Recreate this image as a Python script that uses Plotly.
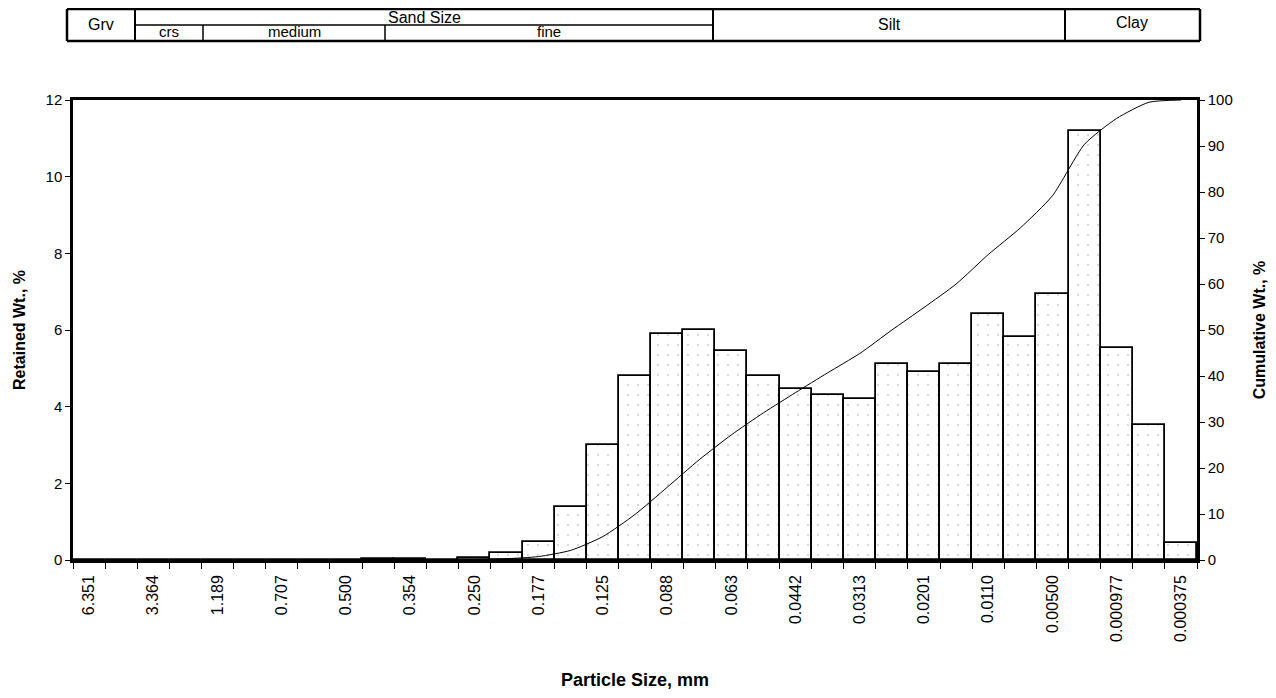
import plotly.graph_objects as go

# ---------------- data ----------------
bin_index = list(range(35))
tick_index = [0, 2, 4, 6, 8, 10, 12, 14, 16, 18, 20, 22, 24, 26, 28, 30, 32, 34]
tick_labels = ["6.351", "3.364", "1.189", "0.707", "0.500", "0.354", "0.250",
               "0.177", "0.125", "0.088", "0.063", "0.0442", "0.0313", "0.0201",
               "0.0110", "0.00500", "0.000977", "0.000375"]
retained_pct = [0, 0, 0, 0, 0, 0, 0, 0, 0, 0.02,
                0.02, 0.01, 0.06, 0.17, 0.47, 1.37, 3.0, 4.8, 5.9, 6.0,
                5.45, 4.8, 4.45, 4.3, 4.2, 5.12, 4.9, 5.12, 6.43, 5.82,
                6.95, 11.2, 5.54, 3.52, 0.45]
cumulative_pct = [0, 0, 0, 0, 0, 0, 0, 0, 0, 0.02,
                  0.04, 0.05, 0.11, 0.28, 0.75, 2.1, 5.1, 9.9, 15.8, 21.8,
                  27.2, 32.0, 36.4, 40.7, 44.9, 50.0, 54.9, 60.0, 66.4, 72.2,
                  79.2, 90.4, 96.0, 99.5, 100]

FONT = "Liberation Sans, Arial, sans-serif"
OFF = 8                       # page body margin
W, H = 1276 - 2 * OFF, 698 - 2 * OFF
L, R, T, B = 73, 1197, 100, 560   # plot area in page pixels

def px(x):
    return (x - L) / (R - L)

def py(y):
    return (B - y) / (B - T)

fig = go.Figure()
fig.add_trace(go.Bar(
    x=bin_index, y=retained_pct, width=1.0,
    marker=dict(color="white", line=dict(color="black", width=1.8),
                pattern=dict(shape=".", fgcolor="#b0b0b0", bgcolor="white",
                             size=10, solidity=0.04)),
    showlegend=False, hoverinfo="skip"))
fig.add_trace(go.Scatter(
    x=bin_index, y=cumulative_pct, yaxis="y2", mode="lines",
    line=dict(color="black", width=1, shape="spline", smoothing=0.6),
    showlegend=False, hoverinfo="skip"))

# ---------------- header table ----------------
shapes = []
def seg(x0, y0, x1, y1, w=1.5):
    shapes.append(dict(type="line", xref="paper", yref="paper",
                       x0=px(x0), y0=py(y0), x1=px(x1), y1=py(y1),
                       line=dict(color="black", width=w)))

hx0, hx1, hy0, hym, hy1 = 67, 1200, 9, 25, 41
seg(hx0, hy0, hx1, hy0, 2.5)
seg(hx0, hy1, hx1, hy1, 2.5)
seg(hx0, hy0, hx0, hy1, 2.5)
seg(hx1, hy0, hx1, hy1, 2.5)
for xv in (135, 713, 1065):
    seg(xv, hy0, xv, hy1, 2)
seg(135, hym, 713, hym, 1.5)
for xv in (203, 385):
    seg(xv, hym, xv, hy1, 1.5)

annotations = []
def txt(x, y, s, size=16):
    annotations.append(dict(xref="paper", yref="paper", x=px(x), y=py(y),
                            text=s, showarrow=False, xanchor="center",
                            yanchor="middle",
                            font=dict(family=FONT, size=size, color="black")))

txt(101, 24, "Grv")
txt(424, 17, "Sand Size")
txt(169, 32, "crs", 15)
txt(294, 31, "medium", 15)
txt(549, 31, "fine", 15)
txt(889, 24, "Silt")
txt(1132, 22, "Clay")

fig.update_layout(
    width=W, height=H,
    margin=dict(l=L - OFF, r=W - (R - OFF), t=T - OFF, b=H - (B - OFF)),
    paper_bgcolor="white", plot_bgcolor="white",
    font=dict(family=FONT, size=15, color="black"),
    bargap=0,
    xaxis=dict(range=[-0.5, 34.5], tickmode="array", tickvals=tick_index,
               ticktext=tick_labels, tickangle=-90, ticks="",
               showline=True, linecolor="black", linewidth=2.5, mirror=True,
               showgrid=False, zeroline=False, automargin=False,
               tickfont=dict(size=16), ticklabelstandoff=6,
               minor=dict(tickmode="array",
                          tickvals=[k - 0.5 for k in range(36)],
                          ticks="outside", ticklen=6, tickwidth=1,
                          tickcolor="black", showgrid=False),
               title=dict(text="<b>Particle Size, mm</b>", standoff=34,
                          font=dict(size=18))),
    yaxis=dict(range=[0, 12], dtick=2, ticks="outside", ticklen=5,
               tickcolor="black", showline=True, linecolor="black",
               linewidth=2.5, showgrid=False, zeroline=False, automargin=False,
               tickfont=dict(size=15),
               title=dict(text="<b>Retained Wt., %</b>", standoff=16,
                          font=dict(size=16))),
    yaxis2=dict(range=[0, 100], dtick=10, overlaying="y", side="right",
                ticks="outside", ticklen=5, tickcolor="black",
                showline=True, linecolor="black", linewidth=2.5,
                showgrid=False, zeroline=False, automargin=False,
                tickfont=dict(size=15),
                title=dict(text="<b>Cumulative Wt., %</b>", standoff=25,
                           font=dict(size=16))),
    shapes=shapes, annotations=annotations,
)

fig.write_html("out.html")
